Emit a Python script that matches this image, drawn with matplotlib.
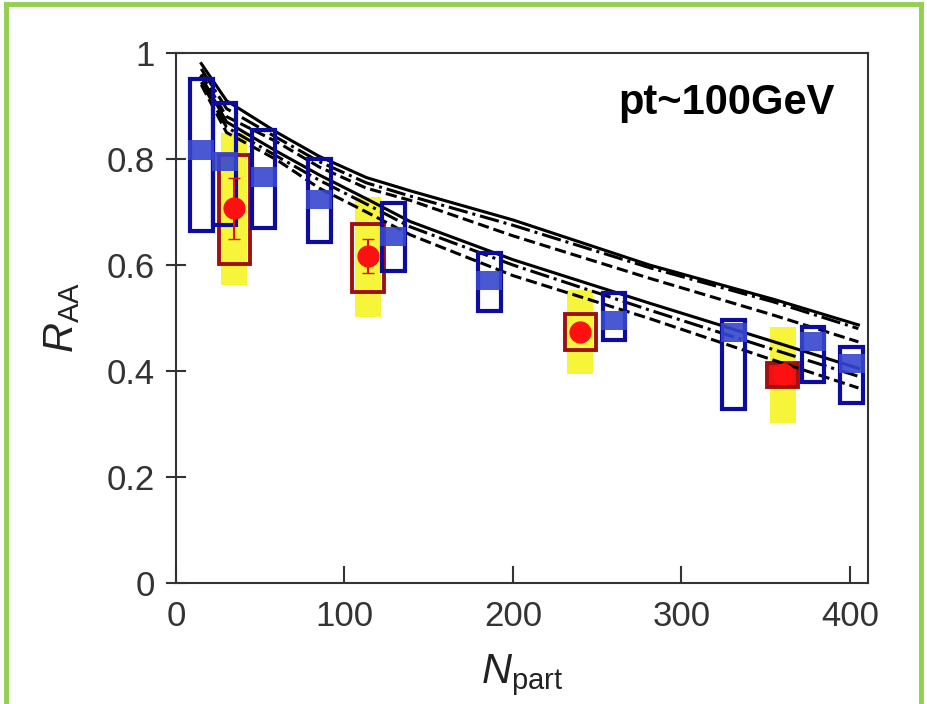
import matplotlib
matplotlib.use("Agg")
import matplotlib.pyplot as plt
from matplotlib.patches import Rectangle
from matplotlib.lines import Line2D

plt.rcParams['font.family'] = ['Liberation Sans', 'DejaVu Sans']
plt.rcParams['mathtext.fontset'] = 'custom'
plt.rcParams['mathtext.rm'] = 'Liberation Sans'
plt.rcParams['mathtext.it'] = 'Liberation Sans:italic'

# ---- data ----
# blue (open boxes with filled squares)
blue_x = [15, 29, 52, 85, 129, 186, 260, 331, 378, 401]
blue_y = [0.817, 0.795, 0.766, 0.723, 0.653, 0.570, 0.496, 0.473, 0.456, 0.415]
blue_hi = [0.951, 0.906, 0.855, 0.800, 0.717, 0.623, 0.547, 0.496, 0.483, 0.446]
blue_lo = [0.664, 0.675, 0.670, 0.643, 0.589, 0.513, 0.458, 0.328, 0.379, 0.340]

# red points with red boxes and yellow bands
red_x = [34.5, 114, 240, 360]
red_y = [0.707, 0.617, 0.474, 0.395]
red_err = [0.057, 0.033, 0.010, 0.0]
red_hi = [0.808, 0.677, 0.508, 0.415]
red_lo = [0.602, 0.549, 0.440, 0.370]
yel_hi = [0.849, 0.729, 0.553, 0.483]
yel_lo = [0.562, 0.502, 0.394, 0.302]

# model curves
npart_model = [15, 30, 60, 85, 113, 139, 200, 281, 355, 405]
upper_solid = [0.980, 0.910, 0.850, 0.805, 0.765, 0.740, 0.685, 0.600, 0.535, 0.487]
upper_dashdot = [0.970, 0.895, 0.840, 0.795, 0.755, 0.730, 0.675, 0.595, 0.530, 0.480]
upper_dashed = [0.960, 0.880, 0.832, 0.785, 0.745, 0.722, 0.655, 0.575, 0.505, 0.455]
lower_solid = [0.955, 0.870, 0.814, 0.770, 0.725, 0.682, 0.610, 0.528, 0.455, 0.405]
lower_dashdot = [0.945, 0.860, 0.805, 0.760, 0.715, 0.672, 0.600, 0.515, 0.440, 0.390]
lower_dashed = [0.940, 0.850, 0.798, 0.745, 0.700, 0.657, 0.580, 0.499, 0.420, 0.368]

xticks = [0, 100, 200, 300, 400]
yticks = [0, 0.2, 0.4, 0.6, 0.8, 1.0]
ytick_labels = ['0', '0.2', '0.4', '0.6', '0.8', '1']

# ---- figure ----
fig = plt.figure(figsize=(9.27, 7.04), dpi=100)
ax = fig.add_axes([176/927, 1-583/704, 692/927, 530/704])
ax.set_xlim(0, 410.7)
ax.set_ylim(0, 1.0)

blue_w = 13.5
red_w = 18.5
yel_w = 15.5
bm_w = 15.5
bm_h = 0.036

for x, lo, hi in zip(red_x, yel_lo, yel_hi):
    ax.add_patch(Rectangle((x - yel_w/2, lo), yel_w, hi - lo, facecolor='#f7f53a',
                           edgecolor='none', zorder=1))
for i, (x, lo, hi) in enumerate(zip(red_x, red_lo, red_hi)):
    fc = '#ee1111' if i == len(red_x) - 1 else 'none'
    ax.add_patch(Rectangle((x - red_w/2, lo), red_w, hi - lo, facecolor=fc,
                           edgecolor='#a01010', linewidth=2.8, zorder=2))

styles = [(upper_solid, '-'), (upper_dashdot, '-.'), (upper_dashed, '--'),
          (lower_solid, '-'), (lower_dashdot, '-.'), (lower_dashed, '--')]
for ys, ls in styles:
    ax.plot(npart_model, ys, color='black', linestyle=ls, linewidth=2.2, zorder=3)

for x, y, lo, hi in zip(blue_x, blue_y, blue_lo, blue_hi):
    ax.add_patch(Rectangle((x - blue_w/2, lo), blue_w, hi - lo, facecolor='none',
                           edgecolor='#0c0ca0', linewidth=3.0, zorder=4))
    ax.add_patch(Rectangle((x - bm_w/2, y - bm_h/2), bm_w, bm_h, facecolor='#3646d0',
                           edgecolor='none', alpha=0.9, zorder=5))

ax.errorbar(red_x, red_y, yerr=red_err, fmt='o', color='#ff1010', ecolor='#e01010',
            markersize=15, elinewidth=1.5, capsize=4, zorder=6)

ax.text(0.952, 0.906, 'pt~100GeV', transform=ax.transAxes, ha='right', va='center',
        fontsize=30, fontweight='bold', color='black')

ax.set_xticks(xticks)
ax.set_yticks(yticks)
ax.set_yticklabels(ytick_labels)
ax.tick_params(axis='x', direction='in', length=12, width=1.5, labelsize=25,
               colors='#333333', pad=12, top=False)
ax.tick_params(axis='y', direction='inout', length=14, width=1.5, labelsize=25,
               colors='#333333', pad=8, right=False)
for s in ax.spines.values():
    s.set_color('#333333')
    s.set_linewidth(1.5)

ax.set_xlabel(r'$N_{\mathrm{part}}$', fontsize=30, color='#222222', labelpad=14)
ax.set_ylabel(r'$R_{\mathrm{AA}}$', fontsize=30, color='#222222', labelpad=18)

# green frame around the figure (left, top, right)
g = '#92d050'
fig.add_artist(Line2D([0.006, 0.006], [0, 0.994], transform=fig.transFigure, color=g, lw=3.5))
fig.add_artist(Line2D([0.006, 0.994], [0.994, 0.994], transform=fig.transFigure, color=g, lw=3.5))
fig.add_artist(Line2D([0.994, 0.994], [0, 0.994], transform=fig.transFigure, color=g, lw=3.5))

fig.savefig('out.png', dpi=100)
